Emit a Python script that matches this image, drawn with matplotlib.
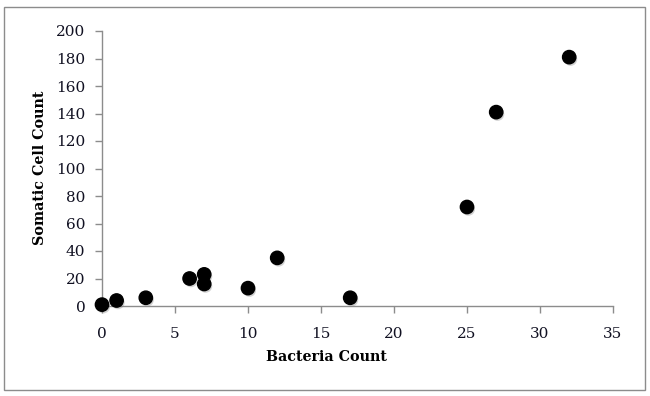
import matplotlib
matplotlib.use('Agg')
import matplotlib.pyplot as plt
import matplotlib.patheffects as pe
from matplotlib.patches import Rectangle

bacteria = [0, 1, 3, 6, 7, 7, 10, 12, 17, 25, 27, 32]
somatic = [1, 4, 6, 20, 23, 16, 13, 35, 6, 72, 141, 181]

plt.rcParams['font.family'] = 'DejaVu Serif'

fig = plt.figure(figsize=(6.5, 3.96), dpi=100)
ax = fig.add_axes([102/650, 1-306/396, (613-102)/650, (306-31)/396])

# chart border like the spreadsheet frame
fig.patches.append(Rectangle((4/650, 1-390/396), (645-4)/650, (390-7)/396,
                             transform=fig.transFigure, fill=False,
                             edgecolor='#8c8c8c', linewidth=1.0))

sc = ax.scatter(bacteria, somatic, s=92, color='black', zorder=3, clip_on=False)
sc.set_path_effects([pe.SimplePatchShadow(offset=(1, -1.5), shadow_rgbFace='gray', alpha=0.35),
                     pe.Normal()])

ax.set_xlim(0, 35)
ax.set_ylim(0, 200)
ax.set_xticks(range(0, 36, 5))
ax.set_yticks(range(0, 201, 20))

for s in ['top', 'right']:
    ax.spines[s].set_visible(False)
for s in ['left', 'bottom']:
    ax.spines[s].set_color('#8c8c8c')
    ax.spines[s].set_linewidth(1.0)
ax.tick_params(direction='out', length=5, color='#8c8c8c', width=1.0,
               labelsize=11, labelcolor='#111122')
ax.tick_params(axis='y', pad=7)
ax.tick_params(axis='x', pad=10)

fig.text(326/650, 1-357/396, 'Bacteria Count', fontsize=10.3, fontweight='bold',
         ha='center', va='center')
fig.text(40/650, 1-168/396, 'Somatic Cell Count', fontsize=10.3, fontweight='bold',
         ha='center', va='center', rotation=90)

fig.savefig('out.png', dpi=100)
